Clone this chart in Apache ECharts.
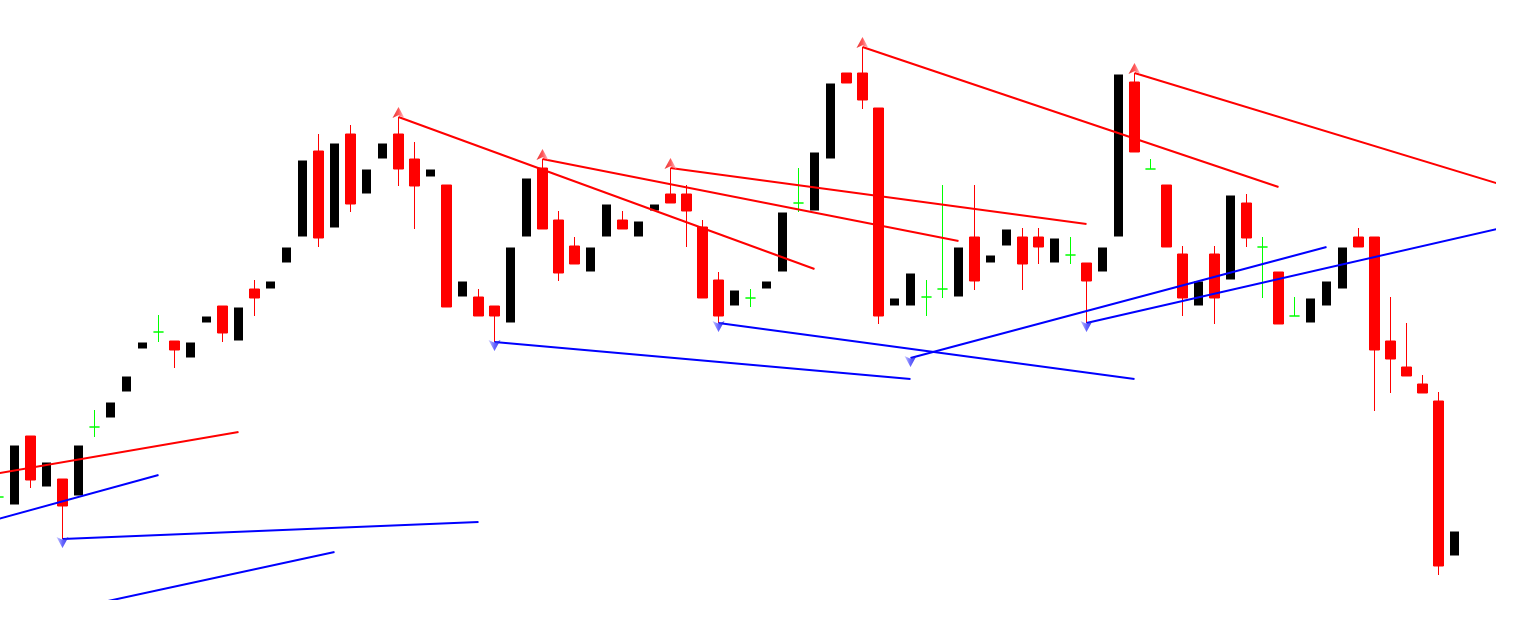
<!DOCTYPE html>
<html>
<head>
<meta charset="utf-8">
<script src="https://cdn.jsdelivr.net/npm/echarts@6/dist/echarts.min.js"></script>
<style>
html,body{margin:0;padding:0;background:#ffffff;}
#chart{width:1530px;height:626px;}
</style>
</head>
<body>
<div id="chart"></div>
<script>
// Bar values (index 0..91), arbitrary price units
const opens  = [103,95,164,113,121,104,173,182,208,251,268,259,242,277,294,259,311,311,337,363,449,372,466,406,441,466,441,423,415,303,303,294,277,363,432,380,354,328,363,380,363,389,406,406,373,320,294,302,311,328,397,389,441,527,527,492,294,294,303,311,303,363,337,354,363,363,337,345,337,328,363,518,431,415,346,294,346,320,397,353,328,284,277,294,311,363,363,259,233,216,199,44];
const closes = [103,155,120,138,94,155,173,198,224,258,268,250,258,284,267,293,302,319,353,440,362,457,396,431,457,431,414,431,293,319,284,284,353,422,371,327,336,353,396,371,379,396,397,389,302,284,310,302,319,388,397,448,517,517,500,284,302,327,303,311,353,319,345,371,336,353,362,345,319,353,526,448,431,353,302,319,302,405,362,353,276,284,302,319,353,353,250,241,224,207,34,69];
const lows   = [95,95,112,113,61,104,163,182,208,251,258,232,242,277,258,259,284,311,337,363,353,372,388,406,441,414,371,423,293,303,284,258,277,363,371,319,336,328,363,371,363,389,397,353,302,277,294,293,311,328,388,389,441,517,491,276,294,294,284,302,303,310,337,354,310,336,337,336,277,328,363,448,431,353,284,294,276,320,353,302,276,284,277,294,311,353,189,207,224,207,25,44];
const highs  = [110,155,164,138,121,155,190,198,224,258,285,259,258,284,294,293,320,319,353,440,466,457,475,431,457,483,458,431,415,319,311,294,353,422,441,389,363,353,396,389,379,396,432,415,380,328,310,311,319,388,432,448,517,527,553,492,302,327,320,415,353,415,345,371,372,372,362,363,337,353,526,527,441,415,354,319,354,405,406,363,328,303,302,319,353,372,363,303,277,225,208,69];

// Trend lines: [startIndex, startPrice, endIndex, endPrice]
const resistanceLines = [[-11,96.5,15,168],[25,483,51,331],[34,441,60,359],[42,432,68,376],[54,553,80,413],[71,527,97,400.5]];
const supportLines    = [[-16,10.8,10,125],[4,61,30,78],[-5,-42,21,48],[31,258,57,221],[45,277,71,221],[57,242,83,353],[68,277,94,372.2]];

// Swing markers: [index, price]
const swingHighs = [[25,483],[34,441],[42,432],[54,553],[71,527]];
const swingLows  = [[4,61],[31,258],[45,277],[57,242],[68,277]];

const GREEN = '#00ff00';
const candleData = opens.map(function (o, i) {
  const item = { value: [i, o, closes[i], lows[i], highs[i]] };
  if (o === closes[i]) {
    item.itemStyle = { color: GREEN, color0: GREEN, borderColor: GREEN, borderColor0: GREEN, borderColorDoji: GREEN };
  }
  return item;
});

const lineSeries = [];
resistanceLines.forEach(function (l) {
  lineSeries.push({ type: 'line', data: [[l[0], l[1]], [l[2], l[3]]], symbol: 'none', silent: true, z: 5,
    lineStyle: { color: '#ff0000', width: 2 } });
});
supportLines.forEach(function (l) {
  lineSeries.push({ type: 'line', data: [[l[0], l[1]], [l[2], l[3]]], symbol: 'none', silent: true, z: 5,
    lineStyle: { color: '#0000ff', width: 2 } });
});

const chart = echarts.init(document.getElementById('chart'), null, { renderer: 'canvas' });
chart.setOption({
  animation: false,
  backgroundColor: '#ffffff',
  grid: { left: 0, top: 0, width: 1494.5, height: 599, containLabel: false },
  xAxis: { type: 'value', min: 0.09375, max: 93.5, show: false, splitLine: { show: false } },
  yAxis: { type: 'value', min: 1, max: 600, show: false, splitLine: { show: false } },
  series: [
    {
      type: 'candlestick',
      data: candleData,
      barWidth: 10,
      z: 2,
      itemStyle: { color: '#000000', color0: '#ff0000', borderColor: '#ffffff', borderColor0: '#ff0000', borderWidth: 1 }
    }
  ].concat(lineSeries).concat([
    {
      type: 'scatter', data: swingHighs, symbol: 'arrow', symbolSize: [9, 11], symbolOffset: [0, -10], z: 6, silent: true,
      itemStyle: { color: { type: 'linear', x: 0, y: 0, x2: 1, y2: 0, colorStops: [{ offset: 0, color: '#e00000' }, { offset: 0.5, color: '#ff3030' }, { offset: 1, color: '#ffb8c8' }] } }
    },
    {
      type: 'scatter', data: swingLows, symbol: 'arrow', symbolSize: [9, 11], symbolRotate: 180, symbolOffset: [0, 9], z: 6, silent: true,
      itemStyle: { color: { type: 'linear', x: 0, y: 0, x2: 1, y2: 0, colorStops: [{ offset: 0, color: '#1010e0' }, { offset: 0.5, color: '#4040ff' }, { offset: 1, color: '#c0c0ff' }] } }
    }
  ])
});
</script>
</body>
</html>
